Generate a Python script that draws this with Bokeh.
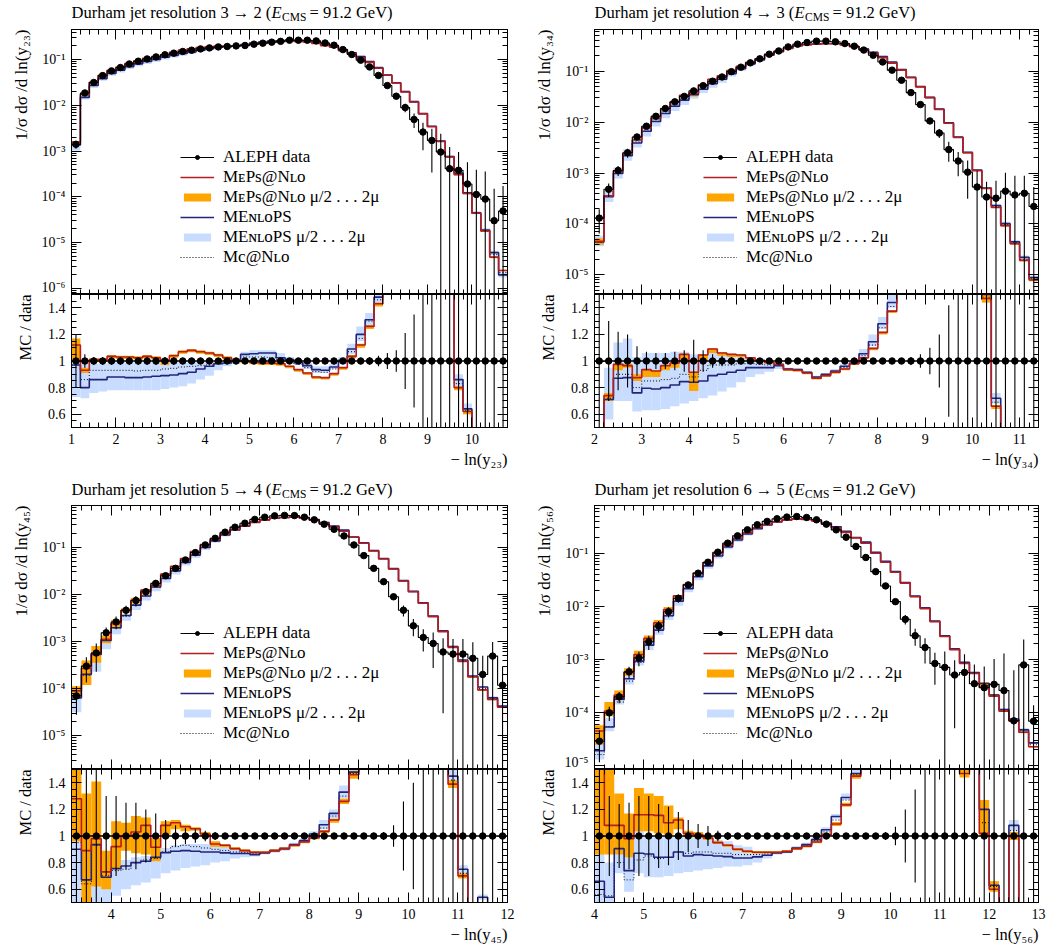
import numpy as np
from bokeh.plotting import figure
from bokeh.models import (Range1d, FixedTicker, CustomJSTickFormatter, LinearAxis, LogAxis,
                          Legend, LegendItem, Title)
from bokeh.core.properties import value
from bokeh.layouts import column, row
from bokeh.embed import file_html
from bokeh.resources import INLINE

FONT = "Liberation Serif"
BIN_W = 0.2

C_DATA = "black"
C_MEPS = "#b41e1e"
C_MEPS_BAND = "#ffa500"
C_MEN = "#23237a"
C_MEN_BAND = "#c8dcff"

# ---------------- Panel 1: y23 ----------------
p1_x = (1.0, 10.8)
p1_y = (7.3e-7, 0.454)
p1_data = [1.4e-3, 0.0186, 0.0315, 0.0446, 0.0565, 0.0668, 0.080, 0.092, 0.103, 0.114,
           0.127, 0.138, 0.150, 0.160, 0.171, 0.180, 0.189, 0.193, 0.199, 0.203,
           0.217, 0.228, 0.240, 0.250, 0.265, 0.265, 0.265, 0.256, 0.230, 0.206,
           0.165, 0.129, 0.097, 0.069, 0.045, 0.027, 0.0158, 0.0089, 0.0049, 0.0026,
           1.7e-3, 9.5e-4, 4.1e-4, 3.8e-4, 1.9e-4, 1.12e-4, 8.9e-5, 3.0e-5, 4.9e-5]
p1_err = [0.2, 0.05, 0.03, 0.03, 0.03, 0.03, 0.03, 0.03, 0.03, 0.03,
          0.03, 0.03, 0.025, 0.025, 0.025, 0.025, 0.02, 0.02, 0.02, 0.02,
          0.015, 0.015, 0.015, 0.015, 0.015, 0.015, 0.015, 0.015, 0.015, 0.015,
          0.02, 0.02, 0.025, 0.03, 0.04, 0.06, 0.08, 0.21, 0.35, 0.6,
          0.8, 1.5, 2.0, 1.5, 2.0, 2.5, 3.0, 4.0, 2.5]
p1_meps = [1.12, 0.93, 1.01, 1.01, 1.035, 1.03, 1.03, 1.025, 1.035, 1.025,
           1.005, 1.04, 1.07, 1.08, 1.07, 1.06, 1.045, 1.025, 1.005, 0.998,
           0.99, 0.985, 0.985, 0.98, 0.96, 0.935, 0.91, 0.88, 0.875, 0.905,
           0.95, 1.035, 1.12, 1.26, 1.43, 1.68, 1.95, 2.2, 2.4, 2.5,
           2.0, 1.7, 1.8, 0.8, 0.62, 0.39, 0.2, 0.16, 0.05]
p1_meps_lo = [1.0, 0.91, 0.99, 0.99, 1.02, 1.015, 1.015, 1.01, 1.02, 1.01,
              0.97, 1.025, 1.055, 1.065, 1.055, 1.045, 1.03, 1.01, 0.99, 0.985,
              0.975, 0.97, 0.97, 0.965, 0.945, 0.92, 0.895, 0.865, 0.86, 0.89,
              0.935, 1.02, 1.1, 1.24, 1.41, 1.65, 1.92, 2.16, 2.35, 2.45,
              1.96, 1.66, 1.76, 0.78, 0.6, 0.38, 0.19, 0.15, 0.048]
p1_meps_hi = [1.17, 0.95, 1.02, 1.02, 1.045, 1.04, 1.04, 1.035, 1.045, 1.035,
              1.015, 1.05, 1.08, 1.09, 1.08, 1.07, 1.055, 1.035, 1.015, 1.005,
              0.995, 0.99, 0.99, 0.985, 0.965, 0.94, 0.915, 0.885, 0.88, 0.91,
              0.955, 1.045, 1.13, 1.27, 1.44, 1.7, 1.98, 2.23, 2.44, 2.54,
              2.03, 1.73, 1.83, 0.81, 0.63, 0.4, 0.205, 0.165, 0.052]
p1_men = [0.97, 0.80, 0.86, 0.86, 0.88, 0.88, 0.875, 0.875, 0.88, 0.885,
          0.89, 0.895, 0.905, 0.915, 0.94, 0.96, 0.98, 0.985, 1.005, 1.05,
          1.055, 1.06, 1.06, 1.025, 1.01, 0.99, 0.965, 0.935, 0.93, 0.955,
          1.005, 1.09, 1.2, 1.31, 1.48, 1.7, 1.97, 2.25, 2.45, 2.55,
          2.05, 1.75, 1.85, 0.86, 0.64, 0.4, 0.21, 0.2, 0.04]
p1_men_lo = [0.73, 0.72, 0.76, 0.77, 0.78, 0.78, 0.78, 0.78, 0.78, 0.78,
             0.79, 0.80, 0.81, 0.83, 0.86, 0.89, 0.93, 0.96, 0.98, 1.0,
             1.0, 1.0, 1.0, 0.99, 0.99, 0.97, 0.94, 0.91, 0.91, 0.94,
             0.98, 1.05, 1.15, 1.27, 1.42, 1.62, 1.88, 2.15, 2.35, 2.45,
             1.95, 1.66, 1.76, 0.81, 0.6, 0.37, 0.19, 0.18, 0.035]
p1_men_hi = [1.0, 1.0, 0.98, 0.98, 0.99, 0.99, 0.99, 0.99, 0.99, 0.99,
             0.98, 0.99, 0.99, 1.0, 1.0, 1.0, 1.0, 1.01, 1.02, 1.07,
             1.08, 1.08, 1.08, 1.06, 1.03, 1.01, 0.99, 0.96, 0.96, 0.98,
             1.03, 1.13, 1.26, 1.36, 1.52, 1.78, 2.06, 2.35, 2.55, 2.65,
             2.15, 1.84, 1.94, 0.9, 0.68, 0.43, 0.23, 0.22, 0.045]
p1_mc = [0.97, 0.86, 0.93, 0.93, 0.93, 0.93, 0.93, 0.925, 0.93, 0.93,
         0.94, 0.945, 0.955, 0.96, 0.965, 0.97, 0.98, 0.99, 1.0, 1.03,
         1.03, 1.03, 1.025, 1.01, 1.0, 0.975, 0.95, 0.92, 0.915, 0.94,
         0.99, 1.07, 1.17, 1.3, 1.46, 1.69, 1.96, 2.22, 2.42, 2.52,
         2.02, 1.72, 1.82, 0.83, 0.63, 0.39, 0.2, 0.18, 0.045]

# ---------------- Panel 2: y34 ----------------
p2_x = (2.0, 11.4)
p2_y = (4.1e-6, 0.66)
p2_data = [1.3e-4, 4.8e-4, 1.12e-3, 2.5e-3, 5.1e-3, 8.3e-3, 0.013, 0.0185, 0.025, 0.032,
           0.041, 0.052, 0.0636, 0.077, 0.098, 0.12, 0.146, 0.175, 0.216, 0.25,
           0.30, 0.34, 0.366, 0.39, 0.39, 0.378, 0.35, 0.31, 0.26, 0.206,
           0.152, 0.105, 0.0665, 0.038, 0.0221, 0.01055, 6.1e-3, 2.88e-3, 1.72e-3, 1.04e-3,
           5.3e-4, 3.37e-4, 3.2e-4, 4.4e-4, 3.7e-4, 4.0e-4, 2.2e-4]
p2_err = [0.5, 0.3, 0.22, 0.2, 0.11, 0.07, 0.06, 0.06, 0.07, 0.08,
          0.16, 0.08, 0.05, 0.04, 0.03, 0.025, 0.02, 0.02, 0.02, 0.015,
          0.015, 0.015, 0.015, 0.015, 0.015, 0.015, 0.015, 0.015, 0.015, 0.015,
          0.02, 0.02, 0.02, 0.03, 0.05, 0.1, 0.2, 0.42, 0.5, 0.7,
          1.1, 1.0, 1.2, 1.3, 1.4, 1.2, 1.4]
p2_meps = [0.35, 0.74, 0.975, 0.965, 0.875, 0.935, 0.925, 0.965, 0.985, 1.05,
           0.915, 1.045, 1.09, 1.06, 1.05, 1.045, 1.025, 1.005, 0.99, 0.975,
           0.935, 0.93, 0.91, 0.87, 0.89, 0.915, 0.94, 0.98, 1.025, 1.095,
           1.215, 1.375, 1.58, 1.97, 2.23, 2.87, 2.9, 3.3, 2.9, 2.4,
           2.1, 1.47, 0.66, 0.21, 0.11, 0.048, 0.036]
p2_meps_lo = [0.3, 0.70, 0.93, 0.95, 0.85, 0.88, 0.88, 0.93, 0.95, 1.0,
              0.775, 1.0, 1.06, 1.04, 1.03, 1.03, 1.01, 0.995, 0.98, 0.965,
              0.925, 0.92, 0.9, 0.86, 0.88, 0.905, 0.93, 0.97, 1.015, 1.08,
              1.2, 1.36, 1.55, 1.94, 2.19, 2.82, 2.85, 3.24, 2.85, 2.36,
              2.06, 1.44, 0.64, 0.2, 0.105, 0.046, 0.034]
p2_meps_hi = [0.4, 0.76, 0.98, 0.98, 0.9, 0.94, 0.93, 0.97, 0.99, 1.055,
              0.92, 1.05, 1.095, 1.065, 1.055, 1.05, 1.03, 1.01, 0.995, 0.98,
              0.94, 0.935, 0.915, 0.875, 0.895, 0.92, 0.945, 0.985, 1.03, 1.1,
              1.22, 1.38, 1.6, 2.0, 2.26, 2.9, 2.94, 3.35, 2.94, 2.43,
              2.13, 1.5, 0.67, 0.215, 0.113, 0.05, 0.038]
p2_men = [0.34, 0.71, 0.87, 0.875, 0.76, 0.795, 0.79, 0.80, 0.82, 0.845,
          0.84, 0.85, 0.89, 0.90, 0.915, 0.93, 0.95, 0.95, 0.95, 0.965,
          0.94, 0.935, 0.915, 0.88, 0.90, 0.925, 0.96, 0.985, 1.055, 1.145,
          1.28, 1.44, 1.62, 2.0, 2.26, 2.9, 2.95, 3.35, 2.95, 2.45,
          2.15, 1.5, 0.72, 0.23, 0.12, 0.055, 0.04]
p2_men_lo = [0.28, 0.56, 0.70, 0.70, 0.62, 0.63, 0.63, 0.64, 0.66, 0.68,
             0.70, 0.72, 0.74, 0.77, 0.80, 0.84, 0.88, 0.90, 0.92, 0.94,
             0.93, 0.925, 0.905, 0.87, 0.89, 0.91, 0.94, 0.97, 1.03, 1.11,
             1.24, 1.4, 1.56, 1.93, 2.18, 2.8, 2.85, 3.22, 2.84, 2.36,
             2.06, 1.44, 0.68, 0.21, 0.11, 0.05, 0.036]
p2_men_hi = [0.45, 0.95, 1.14, 1.17, 1.03, 1.06, 1.06, 1.06, 1.07, 1.07,
             1.05, 1.05, 1.06, 1.05, 1.04, 1.03, 1.02, 1.01, 1.0, 0.99,
             0.95, 0.945, 0.925, 0.89, 0.91, 0.94, 0.98, 1.01, 1.09, 1.2,
             1.33, 1.5, 1.68, 2.07, 2.34, 3.0, 3.05, 3.48, 3.06, 2.54,
             2.24, 1.56, 0.76, 0.25, 0.13, 0.06, 0.044]
p2_mc = [0.34, 0.72, 0.9, 0.9, 0.8, 0.85, 0.85, 0.86, 0.87, 0.9,
         0.88, 0.93, 0.97, 0.97, 0.97, 0.98, 0.98, 0.975, 0.97, 0.97,
         0.94, 0.93, 0.91, 0.875, 0.895, 0.92, 0.95, 0.98, 1.04, 1.12,
         1.25, 1.41, 1.6, 1.98, 2.24, 2.88, 2.92, 3.32, 2.92, 2.42,
         2.12, 1.48, 0.69, 0.22, 0.115, 0.05, 0.038]

# ---------------- Panel 3: y45 ----------------
p3_x = (3.2, 12.0)
p3_y = (1.92e-6, 0.77)
p3_data = [7.0e-5, 3.0e-4, 5.7e-4, 1.53e-3, 2.6e-3, 4.6e-3, 7.4e-3, 0.0114, 0.0171, 0.0249,
           0.0357, 0.0537, 0.077, 0.112, 0.155, 0.209, 0.267, 0.324, 0.39, 0.435,
           0.464, 0.475, 0.47, 0.435, 0.382, 0.309, 0.241, 0.174, 0.112, 0.0665,
           0.0357, 0.0186, 8.9e-3, 4.6e-3, 2.15e-3, 1.22e-3, 9.1e-4, 6.0e-4, 5.4e-4, 5.4e-4,
           4.4e-4, 2.0e-4, 4.9e-4, 1.18e-4]
p3_err = [0.6, 0.55, 0.6, 0.3, 0.3, 0.25, 0.25, 0.2, 0.17, 0.12,
          0.08, 0.06, 0.05, 0.04, 0.03, 0.02, 0.015, 0.015, 0.015, 0.015,
          0.015, 0.015, 0.015, 0.015, 0.015, 0.015, 0.015, 0.015, 0.02, 0.02,
          0.025, 0.03, 0.08, 0.26, 0.4, 0.5, 0.7, 0.95, 1.1, 1.1,
          1.2, 1.5, 1.0, 1.5]
p3_meps = [1.28, 0.89, 0.98, 0.73, 0.92, 1.0, 1.03, 1.08, 0.915, 1.08,
           1.1, 1.07, 1.055, 1.015, 0.94, 0.93, 0.905, 0.89, 0.878, 0.878,
           0.89, 0.905, 0.93, 0.955, 0.985, 1.035, 1.12, 1.26, 1.46, 1.83,
           2.34, 3.04, 3.89, 4.18, 5.3, 5.3, 3.7, 2.7, 1.39, 0.70,
           0.40, 0.47, 0.12, 0.34]
p3_meps_lo = [0.96, 0.4, 0.62, 0.6, 0.75, 0.89, 0.87, 0.86, 0.81, 1.01,
              1.05, 1.035, 1.04, 1.0, 0.92, 0.915, 0.895, 0.88, 0.868, 0.868,
              0.88, 0.895, 0.92, 0.945, 0.975, 1.02, 1.1, 1.24, 1.43, 1.79,
              2.29, 2.98, 3.81, 4.1, 5.2, 5.2, 3.62, 2.64, 1.36, 0.68,
              0.39, 0.45, 0.115, 0.33]
p3_meps_hi = [1.6, 1.32, 1.41, 0.89, 1.11, 1.1, 1.15, 1.14, 0.985, 1.11,
              1.12, 1.085, 1.065, 1.03, 0.96, 0.94, 0.915, 0.9, 0.888, 0.888,
              0.9, 0.915, 0.94, 0.965, 0.995, 1.045, 1.13, 1.28, 1.49, 1.87,
              2.39, 3.1, 3.97, 4.26, 5.4, 5.4, 3.78, 2.76, 1.42, 0.72,
              0.41, 0.49, 0.125, 0.35]
p3_men = [0.9, 0.67, 0.935, 0.69, 0.755, 0.775, 0.80, 0.81, 0.84, 0.875,
          0.885, 0.89, 0.885, 0.88, 0.88, 0.873, 0.868, 0.868, 0.86, 0.873,
          0.89, 0.905, 0.935, 0.965, 1.015, 1.085, 1.17, 1.33, 1.48, 1.88,
          2.4, 3.1, 3.95, 4.25, 5.4, 5.4, 3.8, 2.8, 1.45, 0.75,
          0.42, 0.54, 0.13, 0.36]
p3_men_lo = [0.45, 0.4, 0.4, 0.45, 0.55, 0.6, 0.63, 0.65, 0.68, 0.72,
             0.74, 0.76, 0.77, 0.78, 0.8, 0.81, 0.83, 0.84, 0.845, 0.86,
             0.875, 0.89, 0.92, 0.95, 0.995, 1.05, 1.13, 1.28, 1.44, 1.82,
             2.32, 3.0, 3.82, 4.1, 5.2, 5.2, 3.66, 2.7, 1.4, 0.72,
             0.4, 0.52, 0.12, 0.34]
p3_men_hi = [0.98, 0.9, 0.95, 0.7, 0.8, 0.82, 0.84, 0.85, 0.88, 0.91,
             0.93, 0.94, 0.94, 0.94, 0.93, 0.92, 0.91, 0.9, 0.88, 0.885,
             0.9, 0.92, 0.95, 0.98, 1.035, 1.12, 1.2, 1.38, 1.52, 1.94,
             2.48, 3.2, 4.08, 4.4, 5.6, 5.6, 3.94, 2.9, 1.5, 0.78,
             0.44, 0.56, 0.14, 0.38]
p3_mc = [0.95, 0.64, 0.93, 0.70, 0.74, 0.75, 0.8, 0.82, 0.83, 0.88,
         0.92, 0.93, 0.92, 0.91, 0.9, 0.89, 0.88, 0.875, 0.87, 0.875,
         0.89, 0.905, 0.93, 0.96, 1.0, 1.06, 1.15, 1.3, 1.47, 1.86,
         2.37, 3.07, 3.92, 4.22, 5.35, 5.35, 3.75, 2.75, 1.42, 0.72,
         0.41, 0.5, 0.125, 0.35]

# ---------------- Panel 4: y56 ----------------
p4_x = (4.0, 13.0)
p4_y = (8.5e-6, 0.79)
p4_data = [2.9e-5, 9.9e-5, 1.98e-4, 5.85e-4, 1.07e-3, 2.15e-3, 4.25e-3, 7.9e-3, 0.01417, 0.0253,
           0.042, 0.0676, 0.1045, 0.1545, 0.212, 0.275, 0.343, 0.397, 0.445, 0.478,
           0.49, 0.47, 0.425, 0.352, 0.275, 0.2, 0.134, 0.083, 0.045, 0.0242,
           0.01225, 5.7e-3, 2.8e-3, 1.68e-3, 8.4e-4, 7.1e-4, 5.1e-4, 5.7e-4, 3.5e-4, 2.95e-4,
           3.4e-4, 2.6e-4, 7.0e-5, 7.9e-4, 6.9e-5]
p4_err = [0.6, 0.3, 0.24, 0.25, 0.3, 0.3, 0.24, 0.22, 0.18, 0.12,
          0.09, 0.075, 0.04, 0.03, 0.02, 0.015, 0.015, 0.015, 0.015, 0.015,
          0.015, 0.015, 0.015, 0.015, 0.015, 0.015, 0.02, 0.02, 0.02, 0.03,
          0.07, 0.2, 0.35, 0.5, 0.6, 1.0, 0.9, 1.2, 1.3, 1.5,
          2.0, 4.0, 8.0, 2.0, 1.0]
p4_meps = [1.55, 1.08, 1.08, 0.98, 1.16, 1.16, 1.155, 1.1, 1.12, 1.02,
           1.01, 0.985, 0.95, 0.93, 0.9, 0.885, 0.878, 0.878, 0.878, 0.885,
           0.905, 0.923, 0.955, 1.01, 1.09, 1.234, 1.45, 1.86, 2.22, 2.8,
           3.58, 4.8, 5.4, 5.4, 6.1, 3.8, 3.0, 1.47, 1.56, 1.02,
           0.6, 0.41, 1.0, 0.054, 0.33]
p4_meps_lo = [0.86, 0.86, 0.86, 0.84, 1.035, 1.035, 1.02, 1.01, 1.05, 0.99,
              0.99, 0.97, 0.94, 0.92, 0.89, 0.875, 0.868, 0.868, 0.868, 0.875,
              0.895, 0.913, 0.945, 1.0, 1.075, 1.22, 1.43, 1.83, 2.18, 2.75,
              3.52, 4.72, 5.3, 5.3, 6.0, 3.72, 2.94, 1.44, 1.52, 1.0,
              0.58, 0.4, 0.97, 0.052, 0.32]
p4_meps_hi = [2.0, 1.6, 1.32, 1.17, 1.36, 1.32, 1.3, 1.23, 1.14, 1.04,
              1.03, 1.0, 0.96, 0.94, 0.91, 0.895, 0.888, 0.888, 0.888, 0.895,
              0.915, 0.933, 0.965, 1.02, 1.105, 1.25, 1.47, 1.9, 2.26, 2.85,
              3.64, 4.88, 5.5, 5.5, 6.2, 3.88, 3.06, 1.5, 1.6, 1.27,
              0.66, 0.42, 1.03, 0.056, 0.34]
p4_men = [0.66, 0.54, 0.905, 0.74, 0.87, 0.865, 0.84, 0.84, 0.88, 0.85,
          0.86, 0.855, 0.85, 0.845, 0.835, 0.835, 0.843, 0.855, 0.873, 0.88,
          0.91, 0.935, 0.973, 1.047, 1.147, 1.29, 1.47, 1.95, 2.3, 2.9,
          3.7, 4.9, 5.6, 5.6, 6.3, 3.95, 3.1, 1.55, 1.62, 1.2,
          0.63, 0.44, 1.08, 0.06, 0.39]
p4_men_lo = [0.45, 0.45, 0.72, 0.58, 0.72, 0.69, 0.69, 0.7, 0.72, 0.73,
             0.74, 0.75, 0.76, 0.77, 0.77, 0.78, 0.8, 0.83, 0.86, 0.87,
             0.9, 0.92, 0.96, 1.03, 1.13, 1.27, 1.44, 1.9, 2.24, 2.83,
             3.6, 4.78, 5.46, 5.46, 6.15, 3.85, 3.02, 1.5, 1.57, 1.15,
             0.6, 0.42, 1.04, 0.055, 0.37]
p4_men_hi = [0.9, 0.8, 1.05, 1.0, 1.04, 1.0, 1.0, 1.0, 1.0, 0.99,
             0.99, 0.98, 0.97, 0.96, 0.93, 0.92, 0.88, 0.87, 0.885, 0.895,
             0.925, 0.95, 0.99, 1.065, 1.165, 1.32, 1.52, 2.0, 2.36, 2.97,
             3.8, 5.02, 5.74, 5.74, 6.45, 4.05, 3.18, 1.6, 1.67, 1.27,
             0.66, 0.46, 1.12, 0.065, 0.41]
p4_mc = [0.56, 0.55, 0.8, 0.67, 0.82, 0.85, 0.83, 0.84, 0.88, 0.87,
         0.88, 0.88, 0.87, 0.87, 0.86, 0.86, 0.86, 0.865, 0.875, 0.88,
         0.905, 0.93, 0.965, 1.03, 1.12, 1.27, 1.46, 1.9, 2.26, 2.85,
         3.64, 4.85, 5.5, 5.5, 6.2, 3.88, 3.05, 1.5, 1.6, 1.1,
         0.62, 0.42, 1.04, 0.057, 0.36]

titles = ["3 \u2192 2", "4 \u2192 3", "5 \u2192 4", "6 \u2192 5"]
obs = ["y\u2082\u2083", "y\u2083\u2084", "y\u2084\u2085", "y\u2085\u2086"]

PANELS = [
    dict(x=p1_x, y=p1_y, data=p1_data, err=p1_err, meps=p1_meps, meps_lo=p1_meps_lo, meps_hi=p1_meps_hi,
         men=p1_men, men_lo=p1_men_lo, men_hi=p1_men_hi, mc=p1_mc),
    dict(x=p2_x, y=p2_y, data=p2_data, err=p2_err, meps=p2_meps, meps_lo=p2_meps_lo, meps_hi=p2_meps_hi,
         men=p2_men, men_lo=p2_men_lo, men_hi=p2_men_hi, mc=p2_mc),
    dict(x=p3_x, y=p3_y, data=p3_data, err=p3_err, meps=p3_meps, meps_lo=p3_meps_lo, meps_hi=p3_meps_hi,
         men=p3_men, men_lo=p3_men_lo, men_hi=p3_men_hi, mc=p3_mc),
    dict(x=p4_x, y=p4_y, data=p4_data, err=p4_err, meps=p4_meps, meps_lo=p4_meps_lo, meps_hi=p4_meps_hi,
         men=p4_men, men_lo=p4_men_lo, men_hi=p4_men_hi, mc=p4_mc),
]

EMPTY = CustomJSTickFormatter(code="return '';")
LOGF = CustomJSTickFormatter(code="""
const e = Math.round(Math.log10(tick));
const m = {'-':'\u207b','0':'\u2070','1':'\u00b9','2':'\u00b2','3':'\u00b3','4':'\u2074','5':'\u2075','6':'\u2076','7':'\u2077','8':'\u2078','9':'\u2079'};
return '10' + String(e).split('').map(c => m[c]).join('');
""")
RATF = CustomJSTickFormatter(code="return Math.abs(tick - 1) < 1e-6 ? '1' : tick.toFixed(1);")


def style_axis(ax, labels):
    ax.major_tick_in = 10
    ax.major_tick_out = 0
    ax.minor_tick_in = 5
    ax.minor_tick_out = 0
    ax.axis_line_color = "black"
    ax.major_tick_line_color = "black"
    ax.minor_tick_line_color = "black"
    ax.major_label_text_font = FONT
    ax.major_label_text_font_size = "14px"
    ax.major_label_text_color = "black"
    if labels:
        ax.major_label_standoff = 6
    else:
        ax.major_label_standoff = 0
        ax.formatter = EMPTY


def side_title(fig, text, side, standoff, fs="16.5px"):
    fig.add_layout(Title(text=text, align="right", text_font=FONT, text_font_size=fs,
                         text_font_style="normal", text_color="black", standoff=standoff), side)


def steps(fig, edges, vals, **kw):
    return fig.step(x=edges, y=np.append(vals, vals[-1]), mode="after", **kw)


def title_strip(k, fw, H, bl, br, base):
    s = figure(frame_width=fw, frame_height=H, x_range=Range1d(0, fw), y_range=Range1d(0, H),
               min_border_left=bl, min_border_right=br, min_border_top=0, min_border_bottom=0,
               output_backend="svg", toolbar_location=None,
               x_axis_location=None, y_axis_location=None, outline_line_color=None)
    s.xgrid.visible = False
    s.ygrid.visible = False
    pieces = [
        ("Durham jet resolution " + titles[k] + " (", 0.0, 0.0, "16.5px", "normal"),
        ("E", 200.0, 0.0, "16.5px", "italic"),
        ("CMS", 210.5, -4.0, "11.5px", "normal"),
        (" = 91.2 GeV)", 238.0, 0.0, "16.5px", "normal"),
    ]
    for txt, dx, dy, fs, st in pieces:
        s.text(x=[dx], y=[base + dy], text=[txt], text_font=value(FONT), text_font_size=value(fs),
               text_font_style=st, text_color="black", text_baseline="alphabetic", text_align="left")
    return s


def build(k, P, fw, mh, rh, bl, br, th, bb, ylab_so, rlab_so):
    data = np.array(P["data"])
    n = len(data)
    for key in ["err", "meps", "meps_lo", "meps_hi", "men", "men_lo", "men_hi", "mc"]:
        assert len(P[key]) == n, (k, key, len(P[key]), n)
    x0, x1 = P["x"]
    ylo, yhi = P["y"]
    edges = np.round(x0 + BIN_W * np.arange(n + 1), 3)
    left, right = edges[:-1], edges[1:]
    cen = 0.5 * (left + right)
    err = np.array(P["err"])
    meps, men, mc = np.array(P["meps"]), np.array(P["men"]), np.array(P["mc"])
    meps_lo, meps_hi = np.array(P["meps_lo"]), np.array(P["meps_hi"])
    men_lo, men_hi = np.array(P["men_lo"]), np.array(P["men_hi"])

    xt = FixedTicker(ticks=list(range(int(np.ceil(x0)), int(np.floor(x1)) + 1)),
                     minor_ticks=list(np.round(np.arange(x0, x1 + 1e-9, BIN_W), 3)))
    kmin, kmax = int(np.floor(np.log10(ylo))), int(np.ceil(np.log10(yhi)))
    yt = FixedTicker(ticks=[10.0 ** e for e in range(kmin, kmax + 1)],
                     minor_ticks=[mm * 10.0 ** e for e in range(kmin, kmax + 1) for mm in range(2, 10)])
    rt = FixedTicker(ticks=[0.6, 0.8, 1.0, 1.2, 1.4],
                     minor_ticks=list(np.round(np.arange(0.5, 1.5001, 0.05), 3)))

    strip = title_strip(k, fw, th, bl, br, th - 12)

    # ---------- main plot ----------
    m = figure(frame_width=fw, frame_height=mh, x_range=Range1d(x0, x1), y_range=Range1d(ylo, yhi),
               y_axis_type="log", output_backend="svg", toolbar_location=None,
               min_border_left=bl, min_border_right=br, min_border_top=0, min_border_bottom=0,
               outline_line_color="black", background_fill_color="white", border_fill_color="white")
    m.add_layout(LinearAxis(), "above")
    m.add_layout(LogAxis(), "right")
    m.xgrid.visible = False
    m.ygrid.visible = False
    for ax in m.xaxis:
        ax.ticker = xt
        style_axis(ax, False)
    for ax in m.yaxis:
        ax.ticker = yt
    style_axis(m.left[0], True)
    m.left[0].formatter = LOGF
    style_axis(m.right[0], False)
    side_title(m, "1/\u03c3 d\u03c3 /d ln(" + obs[k] + ")", "left", ylab_so, "17px")

    r_menb = m.quad(left=left, right=right, bottom=data * men_lo, top=data * men_hi,
                    fill_color=C_MEN_BAND, line_color=None)
    r_mepsb = m.quad(left=left, right=right, bottom=data * meps_lo, top=data * meps_hi,
                     fill_color=C_MEPS_BAND, line_color=None)
    r_mc = steps(m, edges, data * mc, line_color="black", line_width=1, line_dash="1 2")
    r_men = steps(m, edges, data * men, line_color=C_MEN, line_width=1.6)
    r_meps = steps(m, edges, data * meps, line_color=C_MEPS, line_width=1.6)
    r_dstep = steps(m, edges, data, line_color=C_DATA, line_width=1.1)
    lower = np.where(err < 1, data * (1 - err), ylo * 1e-3)
    m.segment(x0=cen, y0=lower, x1=cen, y1=data * (1 + err), line_color=C_DATA, line_width=1.1)
    r_dpts = m.scatter(x=cen, y=data, size=6.5, marker="circle", fill_color=C_DATA, line_color=C_DATA)

    leg = Legend(items=[
        LegendItem(label="ALEPH data", renderers=[r_dstep, r_dpts]),
        LegendItem(label="M\u1d07Ps@N\u029fo", renderers=[r_meps]),
        LegendItem(label="M\u1d07Ps@N\u029fo \u03bc/2 . . . 2\u03bc", renderers=[r_mepsb]),
        LegendItem(label="ME\u0274\u029foPS", renderers=[r_men]),
        LegendItem(label="ME\u0274\u029foPS \u03bc/2 . . . 2\u03bc", renderers=[r_menb]),
        LegendItem(label="Mc@N\u029fo", renderers=[r_mc]),
    ], location=(109, mh - 238), orientation="vertical",
        border_line_alpha=0, background_fill_alpha=0,
        label_text_font=FONT, label_text_font_size="17px", label_text_color="black",
        glyph_width=34, glyph_height=10, label_height=20, spacing=0,
        padding=0, margin=0, label_standoff=9)
    m.add_layout(leg)

    # ---------- ratio plot ----------
    r = figure(frame_width=fw, frame_height=rh, x_range=m.x_range, y_range=Range1d(0.5, 1.5),
               output_backend="svg", toolbar_location=None,
               min_border_left=bl, min_border_right=br, min_border_top=0, min_border_bottom=bb,
               outline_line_color="black", background_fill_color="white", border_fill_color="white")
    r.add_layout(LinearAxis(), "above")
    r.add_layout(LinearAxis(), "right")
    r.xgrid.visible = False
    r.ygrid.visible = False
    for ax in r.xaxis:
        ax.ticker = xt
    style_axis(r.below[0], True)
    style_axis(r.above[0], False)
    for ax in r.yaxis:
        ax.ticker = rt
    style_axis(r.left[0], True)
    r.left[0].formatter = RATF
    style_axis(r.right[0], False)
    side_title(r, "MC / data", "left", rlab_so)
    side_title(r, "\u2212 ln(" + obs[k] + ")", "below", 3)

    r.quad(left=left, right=right, bottom=men_lo, top=men_hi, fill_color=C_MEN_BAND, line_color=None)
    r.quad(left=left, right=right, bottom=meps_lo, top=meps_hi, fill_color=C_MEPS_BAND, line_color=None)
    steps(r, edges, mc, line_color="black", line_width=1, line_dash="1 2")
    steps(r, edges, men, line_color=C_MEN, line_width=1.6)
    steps(r, edges, meps, line_color=C_MEPS, line_width=1.6)
    one = data / data
    steps(r, edges, one, line_color=C_DATA, line_width=1.3)
    r.segment(x0=cen, y0=one - err, x1=cen, y1=one + err, line_color=C_DATA, line_width=1.1)
    r.scatter(x=cen, y=one, size=6.5, marker="circle", fill_color=C_DATA, line_color=C_DATA)
    return column(strip, m, r)


c1 = build(0, PANELS[0], 436, 265, 133, 71, 16, 29, 50, 16, 19)
c2 = build(1, PANELS[1], 444, 265, 133, 71, 9, 29, 50, 16, 19)
c3 = build(2, PANELS[2], 436, 264, 133, 71, 16, 28, 40, 16, 19)
c4 = build(3, PANELS[3], 444, 264, 133, 71, 9, 28, 40, 16, 19)

layout = column(row(c1, c2), row(c3, c4))
open("out.html", "w").write(file_html(layout, INLINE, "Durham jet resolutions"))
